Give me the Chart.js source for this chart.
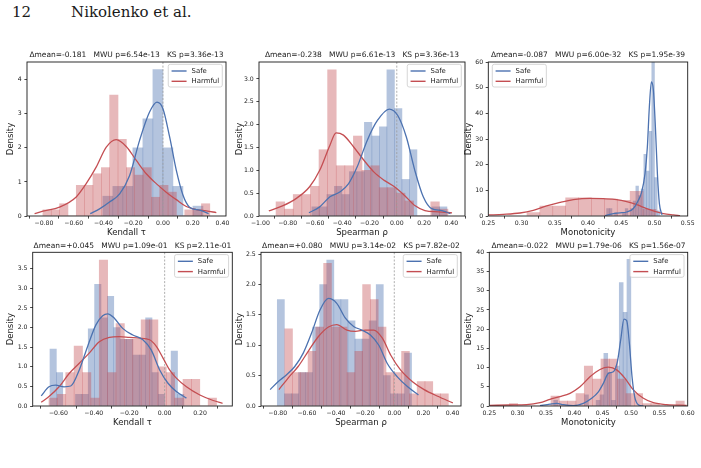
<!DOCTYPE html>
<html>
<head>
<meta charset="utf-8">
<script src="https://cdn.jsdelivr.net/npm/chart.js@4.4.1/dist/chart.umd.min.js"></script>
<style>
  html, body { margin:0; padding:0; background:#ffffff; }
  body { position:relative; width:701px; height:468px; overflow:hidden; }
  .hdr { position:absolute; font-family:"DejaVu Serif", serif; font-size:15px; line-height:17px; color:#1a1a1a; white-space:pre; }
  .panel { position:absolute; }
  .panel canvas { display:block; }
</style>
</head>
<body>
<div class="hdr" style="left:12px; top:4px;">12</div>
<div class="hdr" style="left:71px; top:4px;">Nikolenko et al.</div>
<script>
// ================= DATA =================
const seriesNames = ['Safe', 'Harmful'];
const panelTitles = [
  'Δmean=-0.181   MWU p=6.54e-13   KS p=3.36e-13',
  'Δmean=-0.238   MWU p=6.61e-13   KS p=3.36e-13',
  'Δmean=-0.087   MWU p=6.00e-32   KS p=1.95e-39',
  'Δmean=+0.045   MWU p=1.09e-01   KS p=2.11e-01',
  'Δmean=+0.080   MWU p=3.14e-02   KS p=7.82e-02',
  'Δmean=-0.022   MWU p=1.79e-06   KS p=1.56e-07'
];
const xAxisLabels = ['Kendall τ', 'Spearman ρ', 'Monotonicity', 'Kendall τ', 'Spearman ρ', 'Monotonicity'];
const yAxisLabel = 'Density';

// tick values
const p1XTicks = [-0.8, -0.6, -0.4, -0.2, 0, 0.2, 0.4];
const p1YTicks = [0, 1, 2, 3, 4];
const p2XTicks = [-1.0, -0.8, -0.6, -0.4, -0.2, 0, 0.2, 0.4];
const p2YTicks = [0, 0.5, 1.0, 1.5, 2.0, 2.5, 3.0];
const p3XTicks = [0.25, 0.30, 0.35, 0.40, 0.45, 0.50, 0.55];
const p3YTicks = [0, 10, 20, 30, 40, 50, 60];
const p4XTicks = [-0.6, -0.4, -0.2, 0, 0.2];
const p4YTicks = [0, 0.5, 1.0, 1.5, 2.0, 2.5, 3.0, 3.5];
const p5XTicks = [-0.8, -0.6, -0.4, -0.2, 0, 0.2, 0.4];
const p5YTicks = [0, 0.5, 1.0, 1.5, 2.0, 2.5];
const p6XTicks = [0.25, 0.30, 0.35, 0.40, 0.45, 0.50, 0.55, 0.60];
const p6YTicks = [0, 5, 10, 15, 20, 25, 30, 35, 40];

// Panel 1: Kendall tau (top)
const p1SafeBinStart = -0.404, p1SafeBinWidth = 0.0673;
const p1SafeHist = [0.58, 0.87, 0.87, 2.0, 2.85, 4.3, 2.0, 0.87, 0, 0.29];
const p1HarmBinStart = -0.807, p1HarmBinWidth = 0.0561;
const p1HarmHist = [0.18, 0.18, 0.36, 0, 0.9, 0.9, 1.24, 1.42, 3.55, 2.25, 1.42, 1.2, 1.42, 0.55, 0.9, 0.7, 0, 0.18, 0.18, 0.36];
const p1SafeKdeX = [-0.489, -0.426, -0.359, -0.291, -0.224, -0.157, -0.090, -0.040, 0.0, 0.045, 0.09, 0.135, 0.179, 0.247, 0.307];
const p1SafeKdeY = [0.07, 0.21, 0.41, 0.65, 1.19, 2.22, 3.05, 3.34, 3.15, 2.32, 1.34, 0.61, 0.26, 0.17, 0.07];
const p1HarmKdeX = [-0.863, -0.807, -0.695, -0.583, -0.516, -0.448, -0.381, -0.314, -0.247, -0.179, -0.112, -0.045, 0.022, 0.090, 0.157, 0.224, 0.291, 0.359];
const p1HarmKdeY = [0.07, 0.14, 0.26, 0.56, 0.95, 1.44, 2.02, 2.24, 2.04, 1.63, 1.24, 0.95, 0.70, 0.48, 0.28, 0.19, 0.15, 0.10];

// Panel 2: Spearman rho (top)
const p2SafeBinStart = -0.6224, p2SafeBinWidth = 0.055;
const p2SafeHist = [0.2, 0.2, 0.47, 0.65, 0.47, 0.97, 0.97, 2.05, 1.75, 1.95, 3.2, 2.35, 0.8, 1.45, 0, 0, 0.2, 0.2];
const p2HarmBinStart = -0.885, p2HarmBinWidth = 0.063;
const p2HarmHist = [0.31, 0.15, 0.47, 0.47, 0.65, 1.45, 3.2, 1.1, 1.1, 1.75, 1.0, 1.1, 0.62, 0.62, 0.5, 0.33, 0, 0, 0.31, 0.15];
const p2SafeKdeX = [-0.644, -0.565, -0.49, -0.415, -0.353, -0.291, -0.216, -0.142, -0.055, 0.007, 0.07, 0.132, 0.194, 0.256, 0.331, 0.393];
const p2SafeKdeY = [0.07, 0.2, 0.42, 0.53, 0.71, 1.07, 1.66, 2.09, 2.34, 2.2, 1.73, 1.0, 0.42, 0.16, 0.12, 0.05];
const p2HarmKdeX = [-0.938, -0.838, -0.739, -0.639, -0.565, -0.49, -0.445, -0.391, -0.316, -0.241, -0.167, -0.092, -0.017, 0.057, 0.132, 0.206, 0.306, 0.405];
const p2HarmKdeY = [0.11, 0.22, 0.38, 0.64, 1.0, 1.55, 1.82, 1.77, 1.51, 1.22, 0.96, 0.78, 0.64, 0.45, 0.23, 0.12, 0.09, 0.07];

// Panel 3: Monotonicity (top)
const p3SafeBinStart = 0.428, p3SafeBinWidth = 0.004;
const p3SafeHist = [2.9, 2.9, 0, 1.3, 0, 0, 1.3, 2.9, 0, 2.9, 5.8, 11.7, 8.0, 10.5, 24, 17.5, 33, 62, 15, 2];
const p3HarmBinStart = 0.3082, p3HarmBinWidth = 0.0194;
const p3HarmHist = [1.3, 3.9, 3.9, 7.1, 7.1, 6.6, 6.6, 6.1, 9.6, 2.6];
const p3SafeKdeX = [0.4256, 0.4382, 0.4482, 0.4582, 0.4683, 0.4758, 0.4808, 0.4858, 0.4893, 0.4923, 0.4954, 0.4984, 0.5014, 0.5044, 0.5074, 0.5114];
const p3SafeKdeY = [0.13, 0.9, 1.2, 1.56, 2.9, 6.1, 9.4, 16.5, 26.9, 42.5, 52.2, 49, 34.7, 16.5, 4.8, 0.4];
const p3HarmKdeX = [0.25, 0.2726, 0.2977, 0.3177, 0.3378, 0.3579, 0.378, 0.403, 0.4231, 0.4432, 0.4582, 0.4733, 0.4883, 0.5034, 0.5134, 0.5285, 0.5385];
const p3HarmKdeY = [0.4, 0.65, 1.17, 2.2, 3.9, 5.3, 6.4, 6.9, 6.75, 6.4, 5.6, 4.4, 2.9, 1.56, 0.9, 0.4, 0.13];

// Panel 4: Kendall tau (bottom)
const p4SafeBinStart = -0.6474, p4SafeBinWidth = 0.036;
const p4SafeHist = [1.45, 0.85, 0, 0, 0.3, 0.3, 1.97, 3.1, 2.25, 2.8, 2.0, 1.7, 1.7, 1.3, 1.3, 2.25, 0.85, 0.3, 0, 1.4, 0.3];
const p4HarmBinStart = -0.653, p4HarmBinWidth = 0.0473;
const p4HarmHist = [0.2, 0.3, 0.85, 1.53, 0.85, 0.2, 3.72, 0.85, 2.1, 1.7, 1.7, 2.2, 2.2, 1.0, 0.85, 0.2, 0.68, 0.68, 0, 0.2];
const p4SafeKdeX = [-0.697, -0.653, -0.615, -0.568, -0.530, -0.482, -0.435, -0.388, -0.350, -0.322, -0.284, -0.237, -0.180, -0.123, -0.076, -0.028, 0.019, 0.066, 0.123];
const p4SafeKdeY = [0.26, 0.49, 0.53, 0.49, 0.51, 0.92, 1.52, 2.07, 2.3, 2.35, 2.24, 1.98, 1.81, 1.69, 1.43, 0.92, 0.58, 0.37, 0.2];
const p4HarmKdeX = [-0.697, -0.653, -0.596, -0.539, -0.482, -0.426, -0.369, -0.312, -0.256, -0.199, -0.142, -0.085, -0.047, -0.009, 0.028, 0.066, 0.123, 0.199, 0.274, 0.327];
const p4HarmKdeY = [0.094, 0.24, 0.49, 0.83, 1.09, 1.35, 1.64, 1.75, 1.77, 1.75, 1.73, 1.69, 1.52, 1.22, 0.92, 0.71, 0.49, 0.28, 0.14, 0.07];

// Panel 5: Spearman rho (bottom)
const p5SafeBinStart = -0.803, p5SafeBinWidth = 0.0485;
const p5SafeHist = [1.75, 0.2, 0.2, 0.55, 0.55, 1.3, 2.0, 2.4, 1.75, 1.75, 1.4, 1.1, 1.1, 1.4, 2.0, 0.5, 0.2, 0.2, 0.87];
const p5HarmBinStart = -0.7524, p5HarmBinWidth = 0.0535;
const p5HarmHist = [1.27, 0.55, 0.55, 0.9, 1.3, 2.35, 1.3, 1.3, 0.55, 0.9, 2.0, 1.75, 1.3, 0.55, 0.55, 0.9, 0.2, 0.4, 0.4, 0.2, 0.2];
const p5SafeKdeX = [-0.852, -0.798, -0.741, -0.683, -0.625, -0.568, -0.510, -0.452, -0.395, -0.337, -0.279, -0.222, -0.164, -0.106, -0.048, 0.021, 0.09, 0.166];
const p5SafeKdeY = [0.27, 0.4, 0.51, 0.65, 0.87, 1.2, 1.58, 1.77, 1.69, 1.45, 1.31, 1.25, 1.17, 1.0, 0.7, 0.48, 0.32, 0.18];
const p5HarmKdeX = [-0.792, -0.729, -0.660, -0.591, -0.522, -0.452, -0.395, -0.325, -0.268, -0.198, -0.141, -0.083, -0.025, 0.044, 0.125, 0.205, 0.298, 0.402];
const p5HarmKdeY = [0.27, 0.46, 0.65, 0.9, 1.14, 1.3, 1.34, 1.25, 1.23, 1.25, 1.25, 1.12, 0.84, 0.59, 0.4, 0.27, 0.16, 0.05];

// Panel 6: Monotonicity (bottom)
const p6SafeBinStart = 0.3637, p6SafeBinWidth = 0.0068;
const p6SafeHist = [1.5, 0, 0, 0, 0, 0, 0, 0, 2.9, 0, 0, 1.5, 2.9, 13.7, 8.7, 1.5, 10.4, 32.1, 24.4, 38.2];
const p6HarmBinStart = 0.2853, p6HarmBinWidth = 0.0147;
const p6HarmHist = [0.6, 0, 0, 0, 0, 2.6, 1.3, 1.3, 3.2, 10.4, 7.0, 12.2, 12.2, 7.0, 3.2, 3.2, 0.6, 0.6, 0, 0, 1.3];
const p6SafeKdeX = [0.3394, 0.357, 0.3688, 0.3806, 0.3982, 0.4159, 0.4306, 0.4424, 0.4512, 0.46, 0.4688, 0.4759, 0.4818, 0.4876, 0.4924, 0.4971, 0.5018, 0.5065, 0.5129, 0.5218];
const p6SafeKdeY = [0.1, 0.5, 0.7, 0.35, 0.1, 0.7, 2.0, 3.7, 5.9, 8.5, 8.9, 11.5, 17.2, 22.6, 22.2, 16.3, 7.6, 2.4, 0.35, 0];
const p6HarmKdeX = [0.2512, 0.2865, 0.3159, 0.3394, 0.357, 0.3747, 0.3924, 0.41, 0.4276, 0.4453, 0.46, 0.4747, 0.4894, 0.5041, 0.5218, 0.5394, 0.5629, 0.5982];
const p6HarmKdeY = [0.17, 0.26, 0.35, 0.87, 1.74, 2.43, 3.3, 5.0, 7.6, 9.5, 10.1, 9.4, 7.2, 4.2, 2.0, 0.87, 0.35, 0.17];

// ================= STYLE =================
const SAFE_COLOR = '#4c72b0';
const HARM_COLOR = '#c44e52';
const SAFE_FILL = 'rgba(76,114,176,0.42)';
const HARM_FILL = 'rgba(196,78,82,0.40)';
const INK = '#1a1a1a';
const TICK_FONT = 6.2, LABEL_FONT = 8.5, TITLE_FONT = 7.5, LEGEND_FONT = 6.9;

Chart.defaults.font.family = '"DejaVu Sans", sans-serif';
Chart.defaults.color = INK;

function fmt(v, dec) {
  const s = Math.abs(v).toFixed(dec);
  return (v < 0 && Number(s) !== 0 ? '\u2212' : '') + s;
}
function histPoints(start, width, heights) {
  return heights.map((h, i) => ({ x: start + width * (i + 0.5), y: h }));
}
function curvePoints(xs, ys) {
  return xs.map((x, i) => ({ x: x, y: ys[i] }));
}
function fixedTicks(values) {
  return function (scale) { scale.ticks = values.map(v => ({ value: v })); };
}

// plugin: zero reference line, axes frame, legend box
const decorPlugin = {
  id: 'panelDecor',
  afterDatasetDraw(chart, args, opts) {
    if (args.index !== 3 || !opts.zeroLine) return;
    const a = chart.chartArea, ctx = chart.ctx;
    const x = chart.scales.x.getPixelForValue(0);
    ctx.save();
    ctx.strokeStyle = '#9a9a9a'; ctx.lineWidth = 0.8; ctx.setLineDash([2, 1.6]);
    ctx.beginPath(); ctx.moveTo(x, a.top); ctx.lineTo(x, a.bottom); ctx.stroke();
    ctx.restore();
  },
  afterDraw(chart, args, opts) {
    const a = chart.chartArea, ctx = chart.ctx;
    ctx.save();
    ctx.strokeStyle = INK; ctx.lineWidth = 0.9;
    ctx.strokeRect(a.left, a.top, a.right - a.left, a.bottom - a.top);
    // legend
    const items = chart.data.datasets.filter(d => d.type === 'line');
    ctx.font = LEGEND_FONT + 'px "DejaVu Sans"';
    const textW = Math.max.apply(null, items.map(d => ctx.measureText(d.label).width));
    const padL = 3.3, lineLen = 15, gap = 5, padR = 3.2, rowH = 10.3, bh = 22.7;
    const bw = padL + lineLen + gap + textW + padR;
    const bx = opts.legendSide === 'right' ? a.right - 3.7 - bw : a.left + 4;
    const by = a.top + 2.3;
    const r = 2;
    ctx.beginPath();
    ctx.moveTo(bx + r, by);
    ctx.arcTo(bx + bw, by, bx + bw, by + bh, r);
    ctx.arcTo(bx + bw, by + bh, bx, by + bh, r);
    ctx.arcTo(bx, by + bh, bx, by, r);
    ctx.arcTo(bx, by, bx + bw, by, r);
    ctx.closePath();
    ctx.fillStyle = 'rgba(255,255,255,0.8)'; ctx.fill();
    ctx.strokeStyle = '#cccccc'; ctx.lineWidth = 0.8; ctx.stroke();
    items.forEach((d, i) => {
      const cy = by + 6.7 + i * rowH;
      ctx.strokeStyle = d.borderColor; ctx.lineWidth = 1.4;
      ctx.beginPath(); ctx.moveTo(bx + padL, cy); ctx.lineTo(bx + padL + lineLen, cy); ctx.stroke();
      ctx.fillStyle = INK; ctx.textBaseline = 'middle'; ctx.textAlign = 'left';
      ctx.fillText(d.label, bx + padL + lineLen + gap, cy + 0.3);
    });
    ctx.restore();
  }
};

// ================= LAYOUT =================
const panels = [
  { left: 0, top: 49, plotLeft: 27, plotRight: 226, plotTop: 62, plotBottom: 216, yLabelX: 11,
    xMin: -0.914, xMax: 0.424, yMax: 4.52, xTicks: p1XTicks, xDec: 2, yTicks: p1YTicks, yDec: 0,
    title: panelTitles[0], xLabel: xAxisLabels[0], zeroLine: true, legendSide: 'right',
    safe: [p1SafeBinStart, p1SafeBinWidth, p1SafeHist, p1SafeKdeX, p1SafeKdeY],
    harm: [p1HarmBinStart, p1HarmBinWidth, p1HarmHist, p1HarmKdeX, p1HarmKdeY] },
  { left: 229, top: 49, plotLeft: 259, plotRight: 465, plotTop: 62, plotBottom: 216, yLabelX: 240,
    xMin: -1.01, xMax: 0.50, yMax: 3.37, xTicks: p2XTicks, xDec: 2, yTicks: p2YTicks, yDec: 1,
    title: panelTitles[1], xLabel: xAxisLabels[1], zeroLine: true, legendSide: 'right',
    safe: [p2SafeBinStart, p2SafeBinWidth, p2SafeHist, p2SafeKdeX, p2SafeKdeY],
    harm: [p2HarmBinStart, p2HarmBinWidth, p2HarmHist, p2HarmKdeX, p2HarmKdeY] },
  { left: 458, top: 49, plotLeft: 488.3, plotRight: 687.7, plotTop: 62, plotBottom: 216, yLabelX: 469,
    xMin: 0.25, xMax: 0.55, yMax: 60, xTicks: p3XTicks, xDec: 2, yTicks: p3YTicks, yDec: 0,
    title: panelTitles[2], xLabel: xAxisLabels[2], zeroLine: false, legendSide: 'left',
    safe: [p3SafeBinStart, p3SafeBinWidth, p3SafeHist, p3SafeKdeX, p3SafeKdeY],
    harm: [p3HarmBinStart, p3HarmBinWidth, p3HarmHist, p3HarmKdeX, p3HarmKdeY] },
  { left: 0, top: 239, plotLeft: 32.7, plotRight: 232.3, plotTop: 252.3, plotBottom: 406, yLabelX: 11,
    xMin: -0.745, xMax: 0.382, yMax: 3.92, xTicks: p4XTicks, xDec: 2, yTicks: p4YTicks, yDec: 1,
    title: panelTitles[3], xLabel: xAxisLabels[3], zeroLine: true, legendSide: 'right',
    safe: [p4SafeBinStart, p4SafeBinWidth, p4SafeHist, p4SafeKdeX, p4SafeKdeY],
    harm: [p4HarmBinStart, p4HarmBinWidth, p4HarmHist, p4HarmKdeX, p4HarmKdeY] },
  { left: 229, top: 239, plotLeft: 261, plotRight: 461, plotTop: 252.3, plotBottom: 406, yLabelX: 240,
    xMin: -0.915, xMax: 0.458, yMax: 2.53, xTicks: p5XTicks, xDec: 2, yTicks: p5YTicks, yDec: 1,
    title: panelTitles[4], xLabel: xAxisLabels[4], zeroLine: true, legendSide: 'right',
    safe: [p5SafeBinStart, p5SafeBinWidth, p5SafeHist, p5SafeKdeX, p5SafeKdeY],
    harm: [p5HarmBinStart, p5HarmBinWidth, p5HarmHist, p5HarmKdeX, p5HarmKdeY] },
  { left: 458, top: 239, plotLeft: 489.3, plotRight: 687.7, plotTop: 252.3, plotBottom: 406, yLabelX: 469,
    xMin: 0.25, xMax: 0.60, yMax: 40, xTicks: p6XTicks, xDec: 2, yTicks: p6YTicks, yDec: 0,
    title: panelTitles[5], xLabel: xAxisLabels[5], zeroLine: false, legendSide: 'right',
    safe: [p6SafeBinStart, p6SafeBinWidth, p6SafeHist, p6SafeKdeX, p6SafeKdeY],
    harm: [p6HarmBinStart, p6HarmBinWidth, p6HarmHist, p6HarmKdeX, p6HarmKdeY] }
];

function makeChart(p) {
  const W = Math.ceil(p.plotRight - p.left + 12);
  const H = Math.ceil(p.plotBottom - p.top + 24);
  const yAxisW = p.plotLeft - p.left;
  const padRight = W - (p.plotRight - p.left);
  const xAxisH = H - (p.plotBottom - p.top);
  const padTop = Math.max(0, p.plotTop - p.top - 13);

  const wrap = document.createElement('div');
  wrap.className = 'panel';
  wrap.style.left = p.left + 'px'; wrap.style.top = p.top + 'px';
  wrap.style.width = W + 'px'; wrap.style.height = H + 'px';
  const canvas = document.createElement('canvas');
  canvas.width = W; canvas.height = H;
  canvas.style.width = W + 'px'; canvas.style.height = H + 'px';
  wrap.appendChild(canvas);
  document.body.appendChild(wrap);

  const xCommon = { type: 'linear', min: p.xMin, max: p.xMax, bounds: 'data', offset: false,
                    afterBuildTicks: fixedTicks(p.xTicks) };
  const tickGrid = { display: true, drawOnChartArea: false, drawTicks: true, tickLength: 2.6,
                     tickColor: INK, tickWidth: 0.8 };
  const lineStyle = { type: 'line', pointRadius: 0, borderWidth: 1.3, fill: false,
                      cubicInterpolationMode: 'monotone', order: 0, xAxisID: 'x', yAxisID: 'y' };
  const barStyle = { type: 'bar', grouped: false, barPercentage: 1, categoryPercentage: 1,
                     borderWidth: 0, yAxisID: 'y' };

  new Chart(canvas, {
    type: 'bar',
    data: {
      datasets: [
        Object.assign({}, lineStyle, { label: seriesNames[0], borderColor: SAFE_COLOR,
          data: curvePoints(p.safe[3], p.safe[4]) }),
        Object.assign({}, lineStyle, { label: seriesNames[1], borderColor: HARM_COLOR,
          data: curvePoints(p.harm[3], p.harm[4]) }),
        Object.assign({}, barStyle, { label: seriesNames[0] + ' histogram', backgroundColor: SAFE_FILL,
          xAxisID: 'x', order: 2, data: histPoints(p.safe[0], p.safe[1], p.safe[2]) }),
        Object.assign({}, barStyle, { label: seriesNames[1] + ' histogram', backgroundColor: HARM_FILL,
          xAxisID: 'x2', order: 1, data: histPoints(p.harm[0], p.harm[1], p.harm[2]) })
      ]
    },
    options: {
      responsive: false, maintainAspectRatio: false, animation: false, devicePixelRatio: 1, events: [],
      layout: { padding: { left: 0, top: padTop, right: padRight, bottom: 0 } },
      scales: {
        x: Object.assign({}, xCommon, {
          position: 'bottom',
          afterFit(s) { s.height = xAxisH; },
          grid: tickGrid,
          border: { display: false },
          ticks: { autoSkip: false, maxRotation: 0, minRotation: 0, padding: 1, color: INK,
                   font: { size: TICK_FONT }, callback: v => fmt(v, p.xDec) },
          title: { display: true, text: p.xLabel, color: INK,
                   font: { size: LABEL_FONT, lineHeight: '10px' },
                   padding: { top: 0, bottom: xAxisH - 22 } }
        }),
        x2: Object.assign({}, xCommon, { display: false }),
        y: {
          type: 'linear', position: 'left', min: 0, max: p.yMax, bounds: 'data',
          afterBuildTicks: fixedTicks(p.yTicks),
          afterFit(s) { s.width = yAxisW; },
          grid: tickGrid,
          border: { display: false },
          ticks: { padding: 2.6, color: INK, font: { size: TICK_FONT }, callback: v => fmt(v, p.yDec) },
          title: { display: true, text: yAxisLabel, color: INK,
                   font: { size: LABEL_FONT, lineHeight: '10px' },
                   padding: { top: p.yLabelX - p.left - 5, bottom: 0 } }
        }
      },
      plugins: {
        legend: { display: false },
        tooltip: { enabled: false },
        title: { display: true, text: p.title, fullSize: false, color: INK,
                 font: { size: TITLE_FONT, weight: 'normal', lineHeight: '8px' },
                 padding: { top: 2.3, bottom: 2.7 } },
        panelDecor: { zeroLine: p.zeroLine, legendSide: p.legendSide }
      }
    },
    plugins: [decorPlugin]
  });
}

panels.forEach(makeChart);
</script>
</body>
</html>
